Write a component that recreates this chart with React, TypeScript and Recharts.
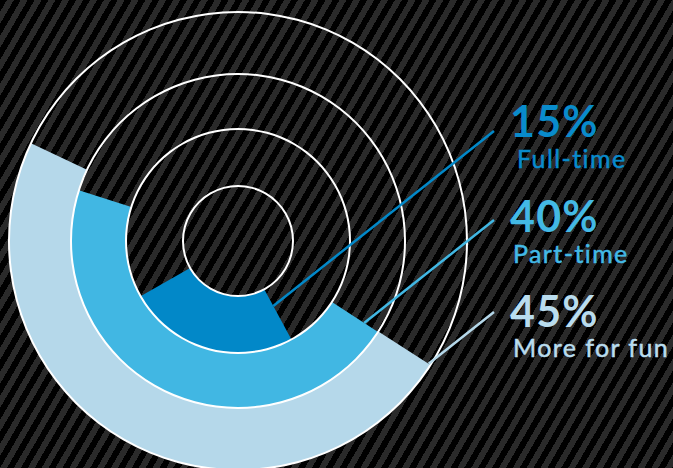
import { PieChart, Pie, Cell } from "recharts";

const categories = ["Full-time", "Part-time", "More for fun"];
const shares = [15, 40, 45];

const RING_COLORS = ["#0288c8", "#41b7e3", "#b5d8ea"];
const TEXT_COLORS = ["#098bcb", "#43b9e5", "#b9dcee"];

const W = 673;
const H = 468;
const CX = 238;
const CY = 241;
const RING_EDGES = [55, 112, 167, 229];
// drawn sweep of each ring, degrees counter-clockwise from 3 o'clock
const ARCS = [
  [209.5, 298.5],
  [162.3, 327],
  [154.7, 327.2],
];
const LEADER_ANGLE = (38.4 * Math.PI) / 180;
const LINE_END_X = 494;
const LINE_END_Y = [131, 220, 312];
const PCT_X = 510;
const PCT_Y = [137, 232, 327];
const NAME_X = [517, 513, 513];
const NAME_Y = [168, 263, 357];

const FONT = "Lato, 'Open Sans', sans-serif";

function renderLabel(props: any, i: number) {
  const { cx, cy, endAngle } = props;
  const a = (endAngle * Math.PI) / 180;
  const ca = Math.cos(a);
  const sa = Math.sin(a);
  const cb = Math.cos(LEADER_ANGLE);
  const sb = Math.sin(LEADER_ANGLE);
  const ex = LINE_END_X;
  const ey = LINE_END_Y[i];
  // where the leader (fixed slope, ending at the label) meets the slice's end edge
  const det = -ca * sb + cb * sa;
  const t = ((ex - cx) * -sb - cb * (ey - cy)) / det;
  const sx = cx + t * ca;
  const sy = cy - t * sa;
  return (
    <g key={`lbl-${i}`}>
      <line x1={sx} y1={sy} x2={ex} y2={ey} stroke={RING_COLORS[i]} strokeWidth={2.5} />
      <text
        x={PCT_X}
        y={PCT_Y[i]}
        fill={TEXT_COLORS[i]}
        fontFamily={FONT}
        fontWeight={700}
        fontSize={43}
        letterSpacing={1.2}
      >
        {`${shares[i]}%`}
      </text>
      <text
        x={NAME_X[i]}
        y={NAME_Y[i]}
        fill={TEXT_COLORS[i]}
        stroke={TEXT_COLORS[i]}
        strokeWidth={0.5}
        fontFamily={FONT}
        fontWeight={400}
        fontSize={25}
        letterSpacing={1.4}
      >
        {categories[i]}
      </text>
    </g>
  );
}

export default function App() {
  return (
    <div
      style={{
        width: W,
        height: H,
        background:
          "repeating-linear-gradient(120deg, #000 0px, #000 6px, #2a2a2a 6px, #2a2a2a 12px)",
      }}
    >
      <style>{`body{margin:0}`}</style>
      <PieChart width={W} height={H} margin={{ top: 0, right: 0, bottom: 0, left: 0 }}>
        {categories.map((name, i) => (
          <Pie
            key={name}
            data={[{ name, value: shares[i] }]}
            dataKey="value"
            cx={CX}
            cy={CY}
            innerRadius={RING_EDGES[i]}
            outerRadius={RING_EDGES[i + 1]}
            startAngle={ARCS[i][0]}
            endAngle={ARCS[i][1]}
            stroke="none"
            label={(p: any) => renderLabel(p, i)}
            labelLine={false}
            isAnimationActive={false}
          >
            <Cell fill={RING_COLORS[i]} />
          </Pie>
        ))}
        {RING_EDGES.map((r) => (
          <Pie
            key={`ring-${r}`}
            data={[{ value: 1 }]}
            dataKey="value"
            cx={CX}
            cy={CY}
            innerRadius={r - 1}
            outerRadius={r + 1}
            startAngle={0}
            endAngle={360}
            stroke="none"
            fill="#ffffff"
            isAnimationActive={false}
          />
        ))}
      </PieChart>
    </div>
  );
}
